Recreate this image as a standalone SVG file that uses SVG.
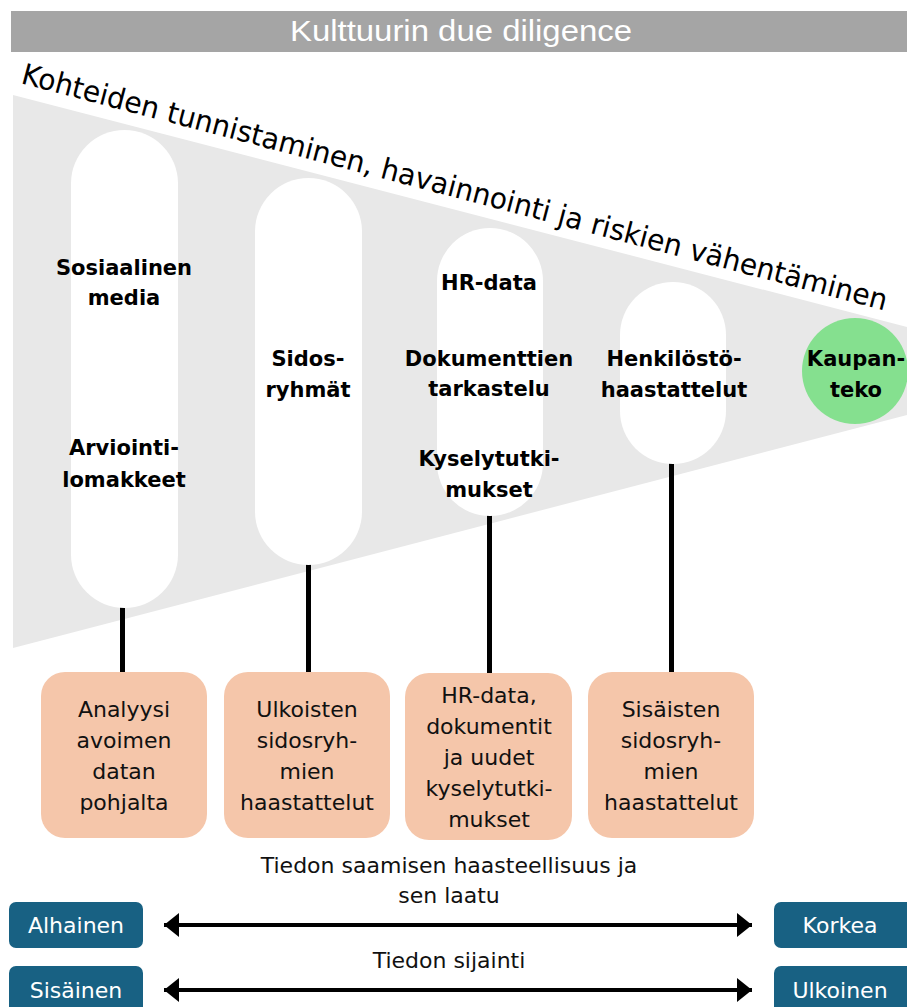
<svg xmlns="http://www.w3.org/2000/svg" width="907" height="1007" viewBox="0 0 907 1007">
<style>
.pill{fill:#ffffff}
.bt{font-family:"DejaVu Sans","Liberation Sans",sans-serif;font-weight:bold;font-size:21px;fill:#000;text-anchor:middle}
.box{fill:#f5c6aa}
.rt{font-family:"DejaVu Sans","Liberation Sans",sans-serif;font-size:22px;fill:#111;text-anchor:middle}
.blue{fill:#186183}
.wt{font-family:"DejaVu Sans","Liberation Sans",sans-serif;font-size:22px;fill:#fff;text-anchor:middle}
.conn{stroke:#000;stroke-width:5;fill:none}
.arr{stroke:#000;stroke-width:4;fill:none}
</style>
<defs>
<marker id="ah" markerUnits="userSpaceOnUse" markerWidth="16" markerHeight="26" refX="15" refY="13" orient="auto-start-reverse">
<path d="M0,1 L15,13 L0,25 Z" fill="#000"/>
</marker>
</defs>
<g id="header">
<rect x="11" y="11" width="896" height="41" fill="#a5a5a5"/>
<text x="461" y="41" font-family="Liberation Sans, sans-serif" font-size="30" fill="#fff" text-anchor="middle" textLength="342" lengthAdjust="spacingAndGlyphs">Kulttuurin due diligence</text>
</g>
<g id="funnel">
<polygon points="13,95 907,327 907,415 13,648" fill="#e8e8e8"/>
</g>
<g id="title-curve">
<text x="20" y="83" font-family="DejaVu Sans, sans-serif" font-size="29" fill="#000" transform="rotate(14.74 20 83)" textLength="894" lengthAdjust="spacingAndGlyphs">Kohteiden tunnistaminen, havainnointi ja riskien vähentäminen</text>
</g>
<g id="connectors">
<line class="conn" x1="122.5" y1="606" x2="122.5" y2="673"/>
<line class="conn" x1="308.5" y1="563" x2="308.5" y2="673"/>
<line class="conn" x1="489.5" y1="514" x2="489.5" y2="674"/>
<line class="conn" x1="671.5" y1="462" x2="671.5" y2="673"/>
<line class="arr" x1="164" y1="925" x2="752" y2="925" marker-start="url(#ah)" marker-end="url(#ah)"/>
<line class="arr" x1="164" y1="990" x2="752" y2="990" marker-start="url(#ah)" marker-end="url(#ah)"/>
</g>
<g id="pill-somedia">
<rect class="pill" x="71" y="130" width="107" height="478" rx="53.5"/>
<text class="bt" x="124" y="275">Sosiaalinen</text>
<text class="bt" x="124" y="305">media</text>
<text class="bt" x="124" y="455">Arviointi-</text>
<text class="bt" x="124" y="487">lomakkeet</text>
</g>
<g id="pill-sidos">
<rect class="pill" x="255" y="178" width="107" height="387" rx="53.5"/>
<text class="bt" x="308" y="366">Sidos-</text>
<text class="bt" x="308" y="397">ryhmät</text>
</g>
<g id="pill-hr">
<rect class="pill" x="437" y="228" width="106" height="288" rx="53"/>
<text class="bt" x="489" y="290">HR-data</text>
<text class="bt" x="489" y="366">Dokumenttien</text>
<text class="bt" x="489" y="396">tarkastelu</text>
<text class="bt" x="489" y="466">Kyselytutki-</text>
<text class="bt" x="489" y="497">mukset</text>
</g>
<g id="pill-henk">
<rect class="pill" x="620" y="282" width="106" height="182" rx="53"/>
<text class="bt" x="674" y="366">Henkilöstö-</text>
<text class="bt" x="674" y="397">haastattelut</text>
</g>
<g id="kaupanteko">
<circle cx="855" cy="371" r="53" fill="#85e08f"/>
<text class="bt" x="856" y="366">Kaupan-</text>
<text class="bt" x="856" y="397">teko</text>
</g>
<g id="box1">
<rect class="box" x="41" y="672" width="166" height="166" rx="24"/>
<text class="rt" x="124" y="717">Analyysi</text>
<text class="rt" x="124" y="748">avoimen</text>
<text class="rt" x="124" y="779">datan</text>
<text class="rt" x="124" y="810">pohjalta</text>
</g>
<g id="box2">
<rect class="box" x="224" y="672" width="166" height="166" rx="24"/>
<text class="rt" x="307" y="717">Ulkoisten</text>
<text class="rt" x="307" y="748">sidosryh-</text>
<text class="rt" x="307" y="779">mien</text>
<text class="rt" x="307" y="810">haastattelut</text>
</g>
<g id="box3">
<rect class="box" x="405" y="673" width="167" height="167" rx="24"/>
<text class="rt" x="489" y="703">HR-data,</text>
<text class="rt" x="489" y="734">dokumentit</text>
<text class="rt" x="489" y="765">ja uudet</text>
<text class="rt" x="489" y="796">kyselytutki-</text>
<text class="rt" x="489" y="827">mukset</text>
</g>
<g id="box4">
<rect class="box" x="588" y="672" width="166" height="166" rx="24"/>
<text class="rt" x="671" y="717">Sisäisten</text>
<text class="rt" x="671" y="748">sidosryh-</text>
<text class="rt" x="671" y="779">mien</text>
<text class="rt" x="671" y="810">haastattelut</text>
</g>
<g id="axis-labels">
<text class="rt" x="449" y="873">Tiedon saamisen haasteellisuus ja</text>
<text class="rt" x="449" y="903">sen laatu</text>
<text class="rt" x="449" y="968">Tiedon sijainti</text>
</g>
<g id="alhainen">
<rect class="blue" x="9" y="902" width="134" height="46" rx="7"/>
<text class="wt" x="76" y="933">Alhainen</text>
</g>
<g id="korkea">
<rect class="blue" x="774" y="902" width="140" height="46" rx="7"/>
<text class="wt" x="840" y="933">Korkea</text>
</g>
<g id="sisainen">
<rect class="blue" x="9" y="966" width="134" height="50" rx="7"/>
<text class="wt" x="76" y="998">Sisäinen</text>
</g>
<g id="ulkoinen">
<rect class="blue" x="774" y="966" width="140" height="50" rx="7"/>
<text class="wt" x="840" y="998">Ulkoinen</text>
</g>
</svg>
